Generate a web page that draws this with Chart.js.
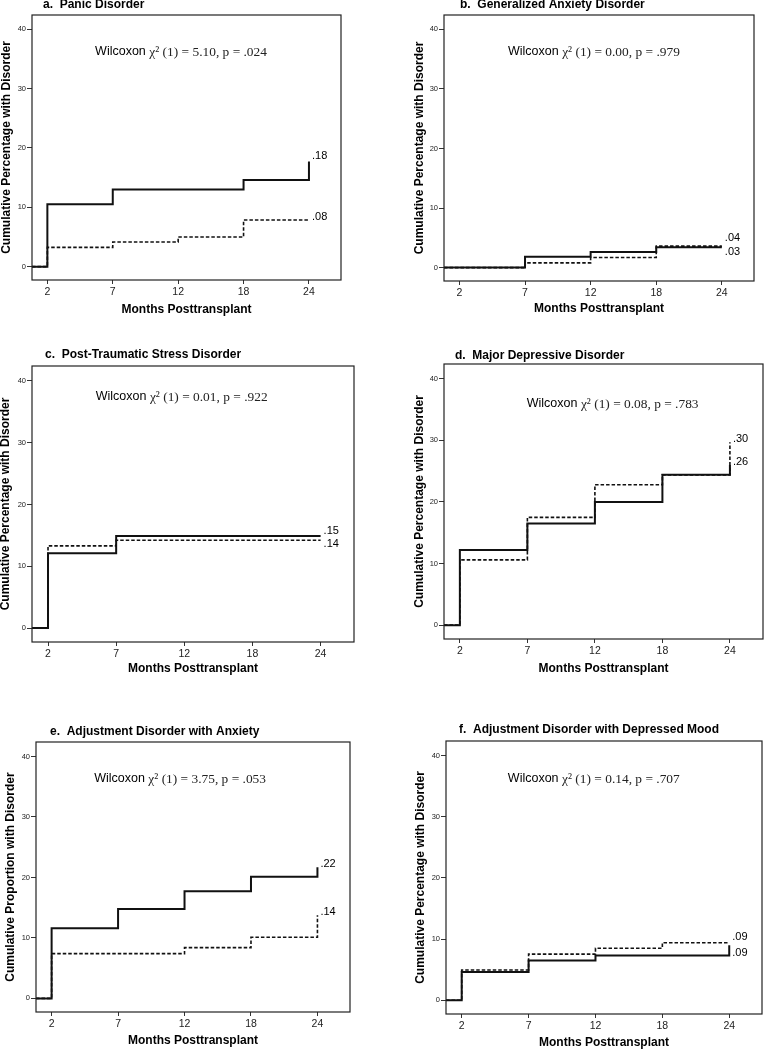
<!DOCTYPE html>
<html>
<head>
<meta charset="utf-8">
<script src="https://cdn.jsdelivr.net/npm/chart.js@4.4.1/dist/chart.umd.min.js"></script>
<style>
    body { margin: 0; background: #fff; width: 764px; height: 1050px; position: relative; overflow: hidden; }
    canvas { position: absolute; }
</style>
</head>
<body>
<script>
// months on the x axis (equally spaced categories)
var months = ['2', '7', '12', '18', '24'];
var yTicks = [0, 10, 20, 30, 40];

// cumulative % at each month: solid and dashed groups
var solidA = [10.5, 13.0, 13.0, 14.6, 17.7];
var dashedA = [3.25, 4.15, 5.0, 7.85, 7.85];
var solidB = [0, 1.8, 2.6, 3.4, 3.4];
var dashedB = [0, 0.8, 1.7, 3.6, 3.6];
var solidC = [12.1, 14.9, 14.9, 14.9, 14.9];
var dashedC = [13.3, 14.2, 14.2, 14.2, 14.2];
var solidD = [12.2, 16.5, 20.0, 24.4, 26.0];
var dashedD = [10.6, 17.5, 22.8, 24.4, 29.7];
var solidE = [11.6, 14.8, 17.7, 20.1, 21.7];
var dashedE = [7.4, 7.4, 8.4, 10.1, 13.75];
var solidF = [4.6, 6.5, 7.3, 7.3, 9.0];
var dashedF = [4.95, 7.55, 8.5, 9.4, 9.4];

var panelTitles = [
    'a.  Panic Disorder',
    'b.  Generalized Anxiety Disorder',
    'c.  Post-Traumatic Stress Disorder',
    'd.  Major Depressive Disorder',
    'e.  Adjustment Disorder with Anxiety',
    'f.  Adjustment Disorder with Depressed Mood'
];
var yTitles = [
    'Cumulative Percentage with Disorder',
    'Cumulative Percentage with Disorder',
    'Cumulative Percentage with Disorder',
    'Cumulative Percentage with Disorder',
    'Cumulative Proportion with Disorder',
    'Cumulative Percentage with Disorder'
];
var statTexts = [
    'χ² (1) = 5.10, p = .024',
    'χ² (1) = 0.00, p = .979',
    'χ² (1) = 0.01, p = .922',
    'χ² (1) = 0.08, p = .783',
    'χ² (1) = 3.75, p = .053',
    'χ² (1) = 0.14, p = .707'
];
// where the Wilcoxon line sits, in axis units
var statX = [0.73, 0.74, 0.70, 0.99, 0.64, 0.69];
var statY = [36.2, 36.2, 37.5, 36.0, 36.3, 36.2];

// end-of-curve labels and their heights
var endLabels = [['.18', '.08'], ['.04', '.03'], ['.15', '.14'], ['.30', '.26'], ['.22', '.14'], ['.09', '.09']];
var endLabelY = [[18.65, 8.4], [4.9, 2.6], [15.75, 13.6], [30.25, 26.45], [22.3, 14.3], [10.3, 7.75]];

var X_MIN = -0.235, X_MAX = 4.49;
var Y_MIN = -2.25, Y_MAX = 42.4;

// canvas placement on the page
var boxes = [
    {left: -1,  top: 0,   w: 383, h: 317, padTop: 15, padRight: 41, yW: 33, xH: 37, tdx: 11, tdy: -10},
    {left: 412, top: 0,   w: 352, h: 316, padTop: 15, padRight: 10, yW: 32, xH: 35, tdx: 16, tdy: -10},
    {left: -2,  top: 330, w: 384, h: 346, padTop: 36, padRight: 28, yW: 34, xH: 34, tdx: 13, tdy: -11},
    {left: 412, top: 330, w: 352, h: 346, padTop: 34, padRight: 1,  yW: 32, xH: 37, tdx: 11, tdy: -8},
    {left: 3,   top: 680, w: 379, h: 368, padTop: 62, padRight: 32, yW: 33, xH: 36, tdx: 14, tdy: -10},
    {left: 413, top: 680, w: 351, h: 370, padTop: 61, padRight: 2,  yW: 33, xH: 36, tdx: 13, tdy: -11}
];

var solids = [solidA, solidB, solidC, solidD, solidE, solidF];
var dashes = [dashedA, dashedB, dashedC, dashedD, dashedE, dashedF];

function toSteps(values) {
    var pts = [{x: X_MIN, y: 0}];
    values.forEach(function (v, i) {
        pts.push({x: i, y: v});
    });
    return pts;
}

var panelText = {
    id: 'panelText',
    afterDraw: function (chart, args, opts) {
        var ctx = chart.ctx;
        var area = chart.chartArea;
        var xs = chart.scales.x;
        var ys = chart.scales.y;

        ctx.save();
        ctx.strokeStyle = '#222';
        ctx.lineWidth = 1.2;
        ctx.strokeRect(area.left, area.top, area.right - area.left, area.bottom - area.top);

        ctx.fillStyle = '#000';
        ctx.textBaseline = 'middle';
        ctx.textAlign = 'left';
        ctx.font = 'bold 12px "Liberation Sans", Arial, sans-serif';
        ctx.fillText(opts.title, area.left + opts.tdx, area.top + opts.tdy);

        var sx = xs.getPixelForValue(opts.statX);
        var sy = ys.getPixelForValue(opts.statY);
        ctx.font = '12.5px "Liberation Sans", Arial, sans-serif';
        ctx.fillText('Wilcoxon ', sx, sy);
        var w = ctx.measureText('Wilcoxon ').width;
        ctx.fillStyle = '#222';
        ctx.font = '13.4px "Liberation Serif", "Times New Roman", serif';
        ctx.fillText(opts.stat, sx + w, sy + 1);

        ctx.fillStyle = '#000';
        ctx.font = '11px "Liberation Sans", Arial, sans-serif';
        var lx = xs.getPixelForValue(4) + 3;
        opts.labels.forEach(function (t, i) {
            ctx.fillText(t, lx, ys.getPixelForValue(opts.labelY[i]));
        });
        ctx.restore();
    }
};

boxes.forEach(function (box, p) {
    var canvas = document.createElement('canvas');
    canvas.width = box.w;
    canvas.height = box.h;
    canvas.style.left = box.left + 'px';
    canvas.style.top = box.top + 'px';
    canvas.style.width = box.w + 'px';
    canvas.style.height = box.h + 'px';
    document.body.appendChild(canvas);

    new Chart(canvas, {
        type: 'line',
        data: {
            datasets: [{
                data: toSteps(solids[p]),
                borderColor: '#111',
                borderWidth: 2,
                stepped: true,
                pointRadius: 0
            }, {
                data: toSteps(dashes[p]),
                borderColor: '#111',
                borderWidth: 1.6,
                borderDash: [3.5, 2],
                stepped: true,
                pointRadius: 0
            }]
        },
        options: {
            responsive: false,
            animation: false,
            devicePixelRatio: 1,
            layout: {
                padding: {left: 0, top: box.padTop, right: box.padRight, bottom: 0}
            },
            plugins: {
                legend: {display: false},
                tooltip: {enabled: false},
                panelText: {
                    title: panelTitles[p],
                    tdx: box.tdx,
                    tdy: box.tdy,
                    stat: statTexts[p],
                    statX: statX[p],
                    statY: statY[p],
                    labels: endLabels[p],
                    labelY: endLabelY[p]
                }
            },
            scales: {
                x: {
                    type: 'linear',
                    min: X_MIN,
                    max: X_MAX,
                    afterBuildTicks: function (s) {
                        s.ticks = months.map(function (m, i) { return {value: i}; });
                    },
                    afterFit: function (s) { s.height = box.xH; },
                    ticks: {
                        callback: function (v, i) { return months[i]; },
                        font: {family: 'Liberation Sans', size: 10.5},
                        color: '#222',
                        padding: 2,
                        maxRotation: 0,
                        autoSkip: false
                    },
                    grid: {drawOnChartArea: false, drawTicks: true, tickLength: 4, color: '#333'},
                    border: {display: false},
                    title: {
                        display: true,
                        text: 'Months Posttransplant',
                        font: {family: 'Liberation Sans', size: 12, weight: 'bold'},
                        color: '#000',
                        padding: 0
                    }
                },
                y: {
                    min: Y_MIN,
                    max: Y_MAX,
                    afterBuildTicks: function (s) {
                        s.ticks = yTicks.map(function (v) { return {value: v}; });
                    },
                    afterFit: function (s) { s.width = box.yW; },
                    ticks: {
                        font: {family: 'Liberation Sans', size: 7.5},
                        color: '#222',
                        padding: 1
                    },
                    grid: {drawOnChartArea: false, drawTicks: true, tickLength: 5, color: '#333'},
                    border: {display: false},
                    title: {
                        display: true,
                        text: yTitles[p],
                        font: {family: 'Liberation Sans', size: 12, weight: 'bold'},
                        color: '#000',
                        padding: 0
                    }
                }
            }
        },
        plugins: [panelText]
    });
});
</script>
</body>
</html>
